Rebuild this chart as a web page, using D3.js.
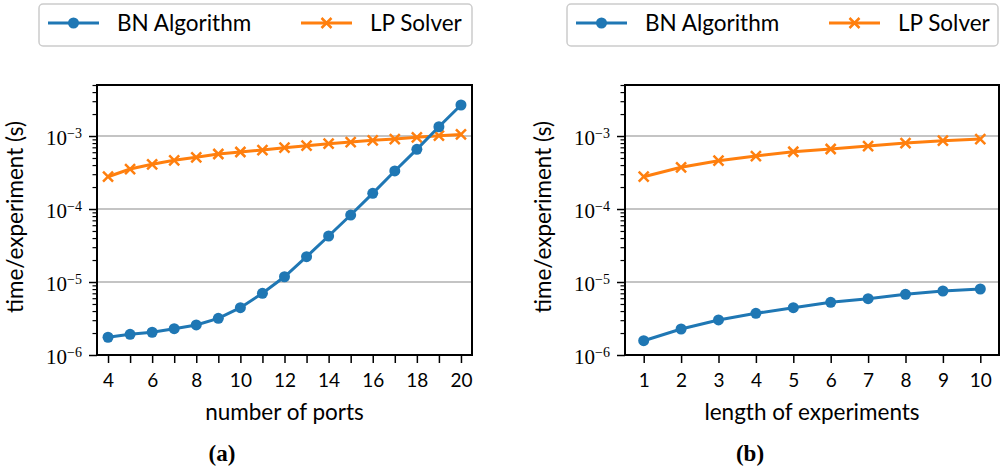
<!DOCTYPE html>
<html>
<head>
<meta charset="utf-8">
<script src="https://cdn.jsdelivr.net/npm/d3@7"></script>
<style>
  html, body { margin: 0; padding: 0; background: #fff; }
  svg { display: block; }
</style>
</head>
<body>
<svg id="chart" width="1003" height="473"></svg>
<script>
// ---- data ----
const portsX = [4,5,6,7,8,9,10,11,12,13,14,15,16,17,18,19,20];
const portsBN = [1.75e-6,1.92e-6,2.05e-6,2.29e-6,2.58e-6,3.18e-6,4.45e-6,7.0e-6,1.18e-5,2.22e-5,4.27e-5,8.27e-5,1.64e-4,3.32e-4,6.57e-4,1.34e-3,2.66e-3];
const portsLP = [2.77e-4,3.53e-4,4.10e-4,4.65e-4,5.11e-4,5.67e-4,6.04e-4,6.43e-4,6.92e-4,7.36e-4,7.85e-4,8.27e-4,8.73e-4,9.10e-4,9.60e-4,1.01e-3,1.05e-3];
const lengthX = [1,2,3,4,5,6,7,8,9,10];
const lengthBN = [1.57e-6,2.27e-6,3.02e-6,3.72e-6,4.45e-6,5.27e-6,5.91e-6,6.78e-6,7.53e-6,8.02e-6];
const lengthLP = [2.77e-4,3.73e-4,4.59e-4,5.32e-4,6.09e-4,6.64e-4,7.29e-4,8.02e-4,8.63e-4,9.10e-4];
const yMajorTicks = [1e-6,1e-5,1e-4,1e-3];
const yExponents = ["−6","−5","−4","−3"];
const portsTickLabels = [4,6,8,10,12,14,16,18,20];
const seriesNames = ["BN Algorithm","LP Solver"];
const panelCaptions = ["(a)","(b)"];
const xLabels = ["number of ports","length of experiments"];
const yLabel = "time/experiment (s)";

const BLUE = "#1f77b4", ORANGE = "#ff7f0e";
const SANS = "Lato, 'Open Sans', sans-serif";
const SERIF = "'Liberation Serif', 'DejaVu Serif', serif";

const svg = d3.select("#chart");

const panels = [
  {x: portsX, bn: portsBN, lp: portsLP, xDomain: [3.5, 20.5], xRange: [97, 472],
   xTicks: portsX, xLabelSet: portsTickLabels, xLabel: xLabels[0], caption: panelCaptions[0],
   captionX: 222, yLabelX: 16, legend: {x0: 39, x1: 472}},
  {x: lengthX, bn: lengthBN, lp: lengthLP, xDomain: [0.5, 10.5], xRange: [625, 999],
   xTicks: lengthX, xLabelSet: lengthX, xLabel: xLabels[1], caption: panelCaptions[1],
   captionX: 750, yLabelX: 544, legend: {x0: 567, x1: 998}}
];

const yTop = 85, yBottom = 355;

// minor ticks
const yMinor = [];
for (let e = -6; e <= -3; e++) {
  for (let m = 2; m <= 9; m++) {
    const v = m * Math.pow(10, e);
    if (v <= 5e-3) yMinor.push(v);
  }
}

panels.forEach(p => {
  const x = d3.scaleLinear().domain(p.xDomain).range(p.xRange);
  const y = d3.scaleLog().domain([1e-6, 5e-3]).range([yBottom, yTop]);
  const g = svg.append("g");
  const [xl, xr] = p.xRange;

  // grid
  g.append("g").selectAll("line").data(yMajorTicks.slice(1)).join("line")
    .attr("x1", xl).attr("x2", xr)
    .attr("y1", d => y(d)).attr("y2", d => y(d))
    .attr("stroke", "#b0b0b0").attr("stroke-width", 1.3);

  // y minor ticks
  const yMin = g.append("g").attr("transform", `translate(${xl},0)`)
    .call(d3.axisLeft(y).tickValues(yMinor).tickSize(4.5).tickFormat(""));
  yMin.select(".domain").remove();
  yMin.selectAll("line").attr("stroke", "#000").attr("stroke-width", 1.2);

  // y major ticks
  const yMaj = g.append("g").attr("transform", `translate(${xl},0)`)
    .call(d3.axisLeft(y).tickValues(yMajorTicks).tickSize(8).tickPadding(7).tickFormat(""));
  yMaj.select(".domain").remove();
  yMaj.selectAll("line").attr("stroke", "#000").attr("stroke-width", 1.5);
  yMaj.selectAll(".tick").each(function(d, i) {
    const t = d3.select(this).append("text")
      .attr("x", -15).attr("dy", "0.42em")
      .attr("text-anchor", "end")
      .attr("fill", "#000")
      .style("font-family", SERIF).style("font-size", "21px");
    t.append("tspan").text("10");
    t.append("tspan").attr("dy", "-0.5em").style("font-size", "14px").text(yExponents[i]);
  });

  // x ticks
  const xAx = g.append("g").attr("transform", `translate(0,${yBottom})`)
    .call(d3.axisBottom(x).tickValues(p.xTicks).tickSize(8).tickPadding(11)
      .tickFormat(d => p.xLabelSet.includes(d) ? String(d) : ""));
  xAx.select(".domain").remove();
  xAx.selectAll("line").attr("stroke", "#000").attr("stroke-width", 1.5);
  xAx.selectAll("text").attr("fill", "#000")
    .style("font-family", SANS).style("font-size", "19px");

  // frame
  g.append("rect").attr("x", xl).attr("y", yTop)
    .attr("width", xr - xl).attr("height", yBottom - yTop)
    .attr("fill", "none").attr("stroke", "#000").attr("stroke-width", 2);

  // lines
  const line = d3.line().x(d => x(d[0])).y(d => y(d[1]));
  const bnData = p.x.map((v, i) => [v, p.bn[i]]);
  const lpData = p.x.map((v, i) => [v, p.lp[i]]);

  g.append("path").datum(lpData).attr("d", line)
    .attr("fill", "none").attr("stroke", ORANGE).attr("stroke-width", 3);
  const xs = 5;
  g.append("g").selectAll("path").data(lpData).join("path")
    .attr("d", d => {
      const cx = x(d[0]), cy = y(d[1]);
      return `M${cx-xs},${cy-xs}L${cx+xs},${cy+xs}M${cx-xs},${cy+xs}L${cx+xs},${cy-xs}`;
    })
    .attr("stroke", ORANGE).attr("stroke-width", 2.5).attr("fill", "none");

  g.append("path").datum(bnData).attr("d", line)
    .attr("fill", "none").attr("stroke", BLUE).attr("stroke-width", 3);
  g.append("g").selectAll("circle").data(bnData).join("circle")
    .attr("cx", d => x(d[0])).attr("cy", d => y(d[1])).attr("r", 5.5)
    .attr("fill", BLUE);

  // axis labels
  g.append("text").attr("x", (xl + xr) / 2).attr("y", 420)
    .attr("text-anchor", "middle").attr("fill", "#000")
    .style("font-family", SANS).style("font-size", "22.5px").text(p.xLabel);
  g.append("text")
    .attr("transform", `translate(${p.yLabelX + 7},${(yTop + yBottom) / 2 - 3}) rotate(-90)`)
    .attr("text-anchor", "middle").attr("fill", "#000")
    .style("font-family", SANS).style("font-size", "22.5px").text(yLabel);

  // caption
  g.append("text").attr("x", p.captionX).attr("y", 461)
    .attr("text-anchor", "middle").attr("fill", "#000")
    .style("font-family", SERIF).style("font-weight", "bold").style("font-size", "23px")
    .text(p.caption);

  // legend
  const L = p.legend;
  const lg = g.append("g");
  lg.append("rect").attr("x", L.x0).attr("y", 4).attr("width", L.x1 - L.x0).attr("height", 42)
    .attr("rx", 4).attr("fill", "#fff").attr("stroke", "#cccccc").attr("stroke-width", 1.5);
  const ly = 23;
  const items = [
    {name: seriesNames[0], color: BLUE, off: 9, marker: "circle"},
    {name: seriesNames[1], color: ORANGE, off: 262, marker: "x"}
  ];
  items.forEach(it => {
    const lx = L.x0 + it.off;
    lg.append("line").attr("x1", lx).attr("x2", lx + 51).attr("y1", ly).attr("y2", ly)
      .attr("stroke", it.color).attr("stroke-width", 3);
    const mx = lx + 25.5;
    if (it.marker === "circle") {
      lg.append("circle").attr("cx", mx).attr("cy", ly).attr("r", 5.5).attr("fill", it.color);
    } else {
      lg.append("path")
        .attr("d", `M${mx-xs},${ly-xs}L${mx+xs},${ly+xs}M${mx-xs},${ly+xs}L${mx+xs},${ly-xs}`)
        .attr("stroke", it.color).attr("stroke-width", 2.5);
    }
    lg.append("text").attr("x", lx + 69).attr("y", ly).attr("dy", "0.36em")
      .attr("fill", "#000").style("font-family", SANS).style("font-size", "22.5px")
      .text(it.name);
  });
});
</script>
</body>
</html>
